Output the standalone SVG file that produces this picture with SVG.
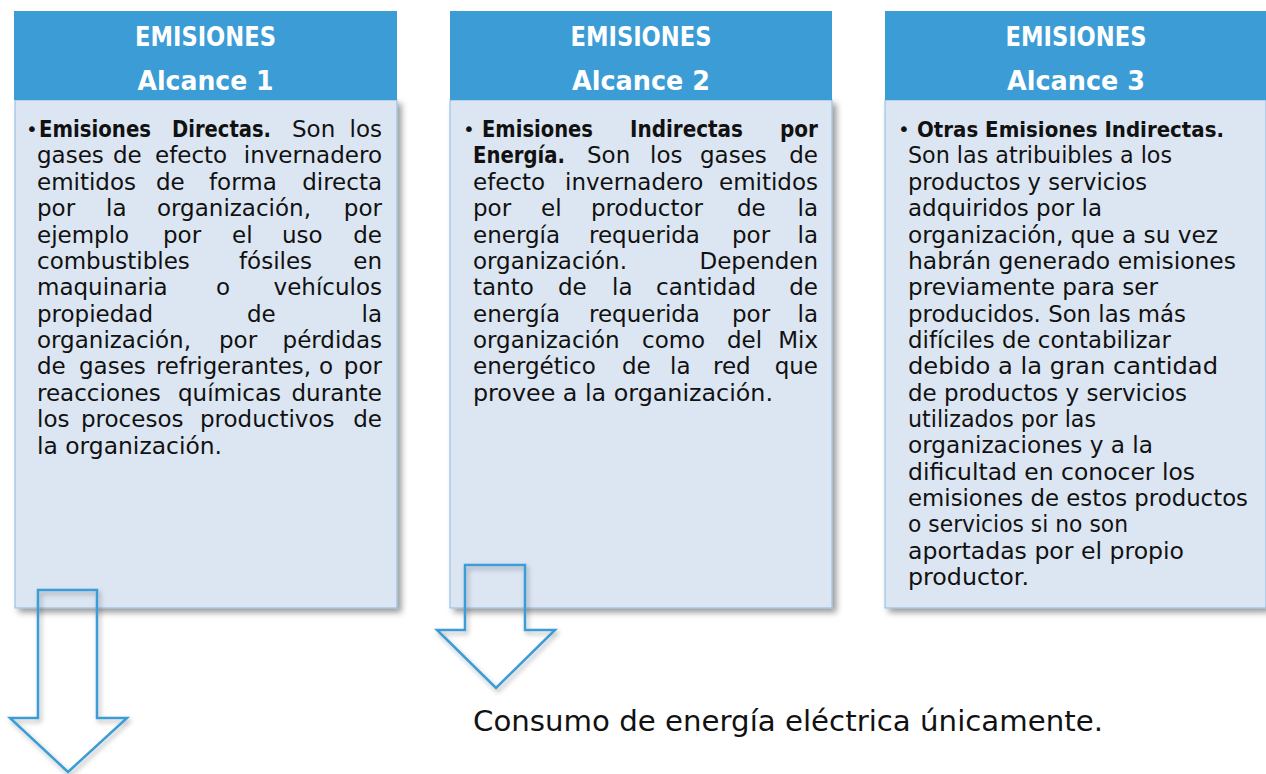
<svg xmlns="http://www.w3.org/2000/svg" width="1266" height="774" viewBox="0 0 1266 774">
<style>
.hdr{fill:#3B9CD6}
.body{fill:#DCE6F2;stroke:#8DB9E2;stroke-width:1}
.ht{font-family:"DejaVu Sans",sans-serif;font-weight:bold;fill:#fff;text-anchor:middle;font-size:26px}
.t{font-family:"DejaVu Sans",sans-serif;font-size:23px;fill:#111}
.b{font-weight:bold}
.e{text-anchor:end}
.bul{font-size:20px}
.arrow{fill:none;stroke:#3B9CD6;stroke-width:2.5;stroke-linejoin:miter}
.foot{font-family:"DejaVu Sans",sans-serif;font-size:29px;fill:#111}
</style>
<defs>
<filter id="sh" x="-10%" y="-10%" width="130%" height="130%">
<feDropShadow dx="4" dy="4" stdDeviation="3" flood-color="#000" flood-opacity="0.4"/>
</filter>
<filter id="sha" x="-20%" y="-20%" width="150%" height="150%">
<feDropShadow dx="2" dy="3" stdDeviation="2.5" flood-color="#000" flood-opacity="0.3"/>
</filter>
</defs>
<rect width="1266" height="774" fill="#fff"/>

<g id="alcance1">
<rect class="body" x="15" y="100" width="382" height="508" filter="url(#sh)"/>
<rect class="hdr" x="14" y="11" width="383" height="89"/>
<text class="ht" x="205.5" y="46" textLength="141" lengthAdjust="spacingAndGlyphs">EMISIONES</text>
<text class="ht" x="205.5" y="90" textLength="136" lengthAdjust="spacingAndGlyphs">Alcance 1</text>
<g class="t">
<text class="bul" x="26" y="136">•</text>
<text class="b" x="39" y="137" textLength="112" lengthAdjust="spacingAndGlyphs">Emisiones</text><text class="b" x="172" y="137" textLength="99" lengthAdjust="spacingAndGlyphs">Directas.</text><text x="292" y="137">Son</text><text class="e" x="382" y="137">los</text>
<text x="37" y="163">gases</text><text x="113" y="163">de</text><text x="155" y="163">efecto</text><text class="e" x="382" y="163">invernadero</text>
<text x="37" y="190">emitidos</text><text x="156" y="190">de</text><text x="209" y="190">forma</text><text class="e" x="382" y="190">directa</text>
<text x="37" y="216">por</text><text x="106" y="216">la</text><text x="157" y="216">organización,</text><text class="e" x="382" y="216">por</text>
<text x="37" y="243">ejemplo</text><text x="163" y="243">por</text><text x="232" y="243">el</text><text x="282" y="243">uso</text><text class="e" x="382" y="243">de</text>
<text x="37" y="269">combustibles</text><text x="239" y="269">fósiles</text><text class="e" x="382" y="269">en</text>
<text x="37" y="295">maquinaria</text><text x="216" y="295">o</text><text class="e" x="382" y="295">vehículos</text>
<text x="37" y="322">propiedad</text><text x="247" y="322">de</text><text class="e" x="382" y="322">la</text>
<text x="37" y="348">organización,</text><text x="219" y="348">por</text><text class="e" x="382" y="348">pérdidas</text>
<text x="37" y="374">de</text><text x="79" y="374">gases</text><text x="156" y="374" textLength="155" lengthAdjust="spacingAndGlyphs">refrigerantes,</text><text x="319" y="374">o</text><text class="e" x="382" y="374">por</text>
<text x="37" y="401">reacciones</text><text x="178" y="401">químicas</text><text class="e" x="382" y="401">durante</text>
<text x="37" y="427">los</text><text x="81" y="427">procesos</text><text x="200" y="427">productivos</text><text class="e" x="382" y="427">de</text>
<text x="37" y="454" textLength="185" lengthAdjust="spacingAndGlyphs">la organización.</text>
</g>
</g>

<g id="alcance2">
<rect class="body" x="450" y="100" width="382" height="508" filter="url(#sh)"/>
<rect class="hdr" x="450" y="11" width="382" height="89"/>
<text class="ht" x="641" y="46" textLength="141" lengthAdjust="spacingAndGlyphs">EMISIONES</text>
<text class="ht" x="641" y="90" textLength="138" lengthAdjust="spacingAndGlyphs">Alcance 2</text>
<g class="t">
<text class="bul" x="463" y="136">•</text>
<text class="b" x="482" y="137" textLength="111" lengthAdjust="spacingAndGlyphs">Emisiones</text><text class="b" x="630" y="137" textLength="113" lengthAdjust="spacingAndGlyphs">Indirectas</text><text class="b e" x="818" y="137" textLength="38" lengthAdjust="spacingAndGlyphs">por</text>
<text class="b" x="473" y="163" textLength="92" lengthAdjust="spacingAndGlyphs">Energía.</text><text x="587" y="163">Son</text><text x="650" y="163">los</text><text x="700" y="163">gases</text><text class="e" x="818" y="163">de</text>
<text x="473" y="190">efecto</text><text x="565" y="190">invernadero</text><text class="e" x="818" y="190">emitidos</text>
<text x="473" y="216">por</text><text x="541" y="216">el</text><text x="591" y="216">productor</text><text x="737" y="216">de</text><text class="e" x="818" y="216">la</text>
<text x="473" y="243">energía</text><text x="589" y="243">requerida</text><text x="732" y="243">por</text><text class="e" x="818" y="243">la</text>
<text x="473" y="269">organización.</text><text class="e" x="818" y="269">Dependen</text>
<text x="473" y="295">tanto</text><text x="558" y="295">de</text><text x="612" y="295">la</text><text x="656" y="295">cantidad</text><text class="e" x="818" y="295">de</text>
<text x="473" y="322">energía</text><text x="589" y="322">requerida</text><text x="732" y="322">por</text><text class="e" x="818" y="322">la</text>
<text x="473" y="348">organización</text><text x="642" y="348">como</text><text x="727" y="348">del</text><text class="e" x="818" y="348">Mix</text>
<text x="473" y="374">energético</text><text x="622" y="374">de</text><text x="670" y="374">la</text><text x="713" y="374">red</text><text class="e" x="818" y="374">que</text>
<text x="473" y="401" textLength="300" lengthAdjust="spacingAndGlyphs">provee a la organización.</text>
</g>
</g>

<g id="alcance3">
<rect class="body" x="885" y="100" width="381" height="508" filter="url(#sh)"/>
<rect class="hdr" x="885" y="11" width="381" height="89"/>
<text class="ht" x="1076" y="46" textLength="141" lengthAdjust="spacingAndGlyphs">EMISIONES</text>
<text class="ht" x="1076" y="90" textLength="138" lengthAdjust="spacingAndGlyphs">Alcance 3</text>
<g class="t">
<text class="bul" x="898" y="136">•</text>
<text class="b" x="917" y="137" font-size="21.5" textLength="307" lengthAdjust="spacingAndGlyphs">Otras Emisiones Indirectas.</text>
<text x="908" y="163" textLength="264" lengthAdjust="spacingAndGlyphs">Son las atribuibles a los</text>
<text x="908" y="190" textLength="239" lengthAdjust="spacingAndGlyphs">productos y servicios</text>
<text x="908" y="216" textLength="194" lengthAdjust="spacingAndGlyphs">adquiridos por la</text>
<text x="908" y="243" textLength="310" lengthAdjust="spacingAndGlyphs">organización, que a su vez</text>
<text x="908" y="269" textLength="328" lengthAdjust="spacingAndGlyphs">habrán generado emisiones</text>
<text x="908" y="295" textLength="250" lengthAdjust="spacingAndGlyphs">previamente para ser</text>
<text x="908" y="322" textLength="278" lengthAdjust="spacingAndGlyphs">producidos. Son las más</text>
<text x="908" y="348" textLength="263" lengthAdjust="spacingAndGlyphs">difíciles de contabilizar</text>
<text x="908" y="374" textLength="310" lengthAdjust="spacingAndGlyphs">debido a la gran cantidad</text>
<text x="908" y="401" textLength="279" lengthAdjust="spacingAndGlyphs">de productos y servicios</text>
<text x="908" y="427" textLength="188" lengthAdjust="spacingAndGlyphs">utilizados por las</text>
<text x="908" y="453" textLength="245" lengthAdjust="spacingAndGlyphs">organizaciones y a la</text>
<text x="908" y="480" textLength="287" lengthAdjust="spacingAndGlyphs">dificultad en conocer los</text>
<text x="908" y="506" textLength="340" lengthAdjust="spacingAndGlyphs">emisiones de estos productos</text>
<text x="908" y="532" textLength="220" lengthAdjust="spacingAndGlyphs">o servicios si no son</text>
<text x="908" y="559" textLength="276" lengthAdjust="spacingAndGlyphs">aportadas por el propio</text>
<text x="908" y="585" textLength="121" lengthAdjust="spacingAndGlyphs">productor.</text>
</g>
</g>

<g id="connectors">
<path class="arrow" filter="url(#sha)" d="M38,590 L97,590 L97,718 L127,718 L68,772 L10,718 L38,718 Z"/>
<path class="arrow" filter="url(#sha)" d="M465,565 L525,565 L525,630 L555,630 L496,688 L437,630 L465,630 Z"/>
</g>

<g id="nota">
<text class="foot" x="473" y="731" textLength="630" lengthAdjust="spacingAndGlyphs">Consumo de energía eléctrica únicamente.</text>
</g>
</svg>
